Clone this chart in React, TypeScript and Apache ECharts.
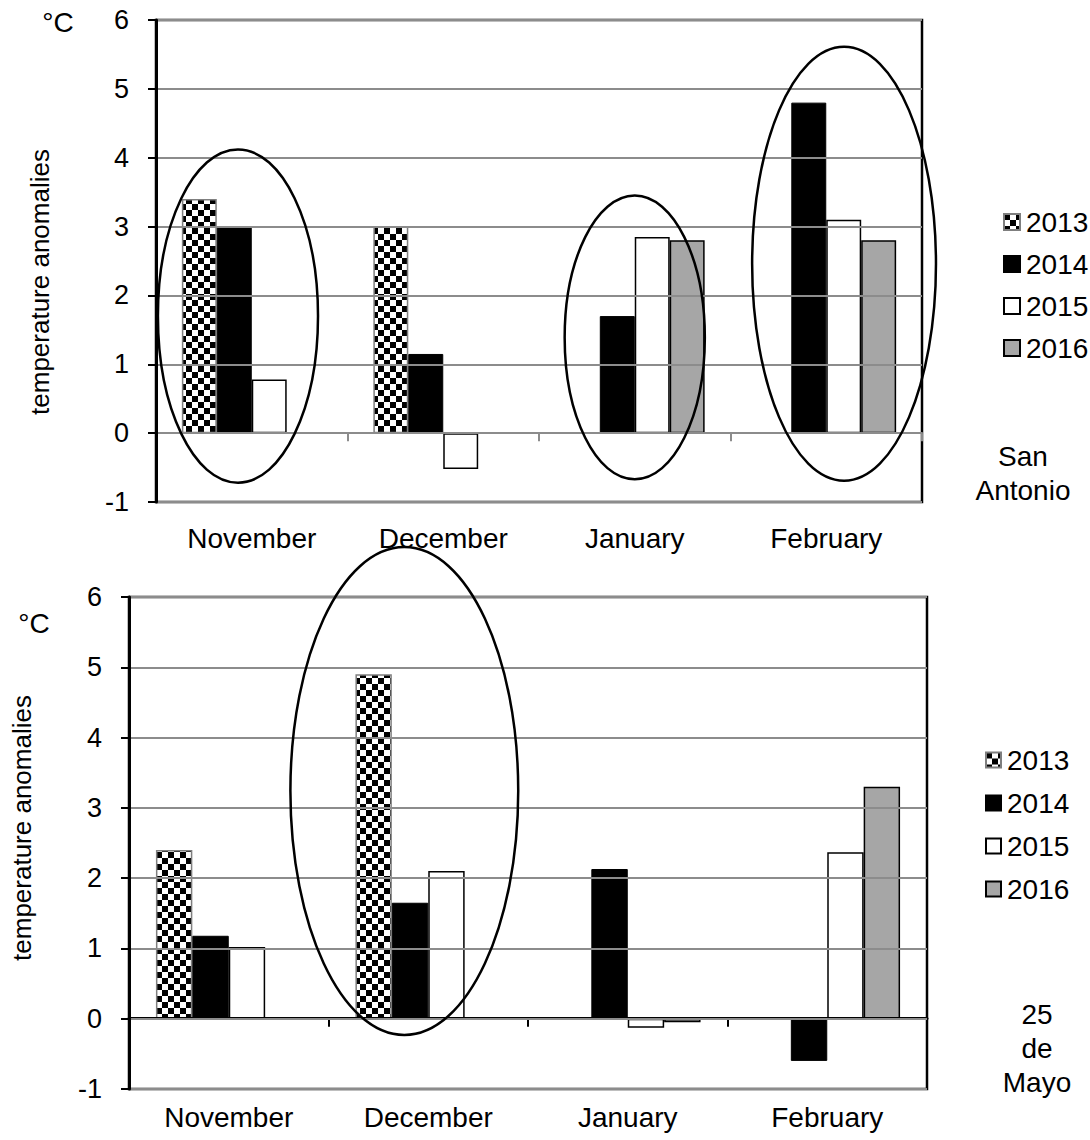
import React, { useEffect, useRef } from 'react';
import * as echarts from 'echarts';

const months = ['November', 'December', 'January', 'February'];
const years = ['2013', '2014', '2015', '2016'];
const yTicks = { min: -1, max: 6, interval: 1 };

// San Antonio (top panel)
const sa2013 = [3.4, 3.0, null, null];
const sa2014 = [3.0, 1.15, 1.7, 4.8];
const sa2015 = [0.78, -0.52, 2.85, 3.1];
const sa2016 = [null, null, 2.8, 2.8];

// 25 de Mayo (bottom panel)
const m2013 = [2.4, 4.9, null, null];
const m2014 = [1.18, 1.65, 2.13, -0.6];
const m2015 = [1.02, 2.1, -0.13, 2.37];
const m2016 = [null, null, -0.05, 3.3];

// ellipses: [category index, centre value, centre offset (fraction of band), x radius (fraction of band), y radius (value units)]
const saEllipses = [
  [0, 1.7, -0.072, 0.418, 2.42],
  [2, 1.39, 0.0, 0.366, 2.06],
  [3, 2.46, 0.093, 0.48, 3.15],
];
const mEllipses = [[1, 3.24, -0.12, 0.571, 3.47]];

const FONT = '"Liberation Sans", Arial, sans-serif';

function makeChecker(): HTMLCanvasElement {
  const c = document.createElement('canvas');
  c.width = 12;
  c.height = 12;
  const ctx = c.getContext('2d')!;
  ctx.fillStyle = '#fff';
  ctx.fillRect(0, 0, 12, 12);
  ctx.fillStyle = '#000';
  ctx.fillRect(0, 0, 6, 6);
  ctx.fillRect(6, 6, 6, 6);
  return c;
}

export default function App() {
  const ref = useRef<HTMLDivElement>(null);
  useEffect(() => {
    if (!ref.current) return;
    const chart = echarts.init(ref.current, null, { renderer: 'svg' });
    const checker = makeChecker();

    const styles = [
      { color: { image: checker, repeat: 'repeat' } as any, borderColor: '#7f7f7f', borderWidth: 1.5 },
      { color: '#000', borderColor: '#000', borderWidth: 1 },
      { color: '#fff', borderColor: '#000', borderWidth: 1.5 },
      { color: '#a6a6a6', borderColor: '#000', borderWidth: 1.5 },
    ];

    const barSeries = (data: (number | null)[][], xi: number, yi: number) =>
      data.map((d, i) => ({
        type: 'bar',
        name: years[i],
        xAxisIndex: xi,
        yAxisIndex: yi,
        data: d.map((v) => (v === null ? '-' : v)),
        barGap: '0%',
        barCategoryGap: '27%',
        itemStyle: styles[i],
        z: 3,
      }));

    const ellipseSeries = (data: number[][], xi: number, yi: number) => ({
      type: 'custom',
      name: 'ellipse' + xi,
      xAxisIndex: xi,
      yAxisIndex: yi,
      clip: false,
      z: 10,
      encode: { x: 0, y: 1 },
      data,
      renderItem: (params: any, api: any) => {
        const c = api.coord([api.value(0), api.value(1)]);
        const sz = api.size([1, 1], [api.value(0), 0]);
        const band = sz[0];
        const unit = sz[1];
        return {
          type: 'ellipse',
          shape: {
            cx: c[0] + api.value(2) * band,
            cy: c[1],
            rx: api.value(3) * band,
            ry: api.value(4) * unit,
          },
          style: { fill: 'none', stroke: '#000', lineWidth: 2.5 },
        };
      },
    });

    const zeroAxis = (gi: number, color: string, width: number) => ({
      type: 'category',
      gridIndex: gi,
      data: months,
      axisLine: { show: true, onZero: true, lineStyle: { color, width } },
      axisTick: { show: true, length: 8, lineStyle: { color, width: 2 } },
      axisLabel: { show: false },
      splitLine: { show: false },
      z: 5,
    });
    const labelAxis = (gi: number, margin: number) => ({
      type: 'category',
      gridIndex: gi,
      data: months,
      position: 'bottom',
      axisLine: { show: false, onZero: false },
      axisTick: { show: false },
      axisLabel: { show: true, margin, fontSize: 28, color: '#000', fontFamily: FONT },
      splitLine: { show: false },
    });
    const yAxis = (gi: number) => ({
      type: 'value',
      gridIndex: gi,
      min: yTicks.min,
      max: yTicks.max,
      interval: yTicks.interval,
      axisLine: { show: true, lineStyle: { color: '#000', width: 3 } },
      axisTick: { show: true, length: 8, lineStyle: { color: '#000', width: 2 } },
      axisLabel: { margin: 27, fontSize: 27, color: '#000', fontFamily: FONT },
      splitLine: { show: true, lineStyle: { color: '#8c8c8c', width: 2 } },
      z: 6,
    });

    const legend = (left: number, top: number, size: number, gap: number) => ({
      orient: 'vertical',
      left,
      top,
      itemWidth: size,
      itemHeight: size,
      itemGap: gap,
      icon: 'rect',
      selectedMode: false,
      data: years,
      textStyle: { fontSize: 28, lineHeight: 28, color: '#000', fontFamily: FONT, padding: [0, 0, 0, 1] },
    });

    const txt = (text: string, x: number, y: number, extra: any = {}) => ({
      type: 'text',
      x,
      y,
      style: {
        text,
        fontSize: 28,
        fontFamily: FONT,
        fill: '#000',
        align: 'center',
        verticalAlign: 'middle',
        ...extra,
      },
    });

    chart.setOption({
      animation: false,
      backgroundColor: '#fff',
      grid: [
        { left: 156, top: 20, width: 766, height: 482, show: true, borderColor: '#000', borderWidth: 2.5, backgroundColor: 'transparent' },
        { left: 129, top: 597, width: 798, height: 492, show: true, borderColor: '#000', borderWidth: 2.5, backgroundColor: 'transparent' },
      ],
      xAxis: [zeroAxis(0, '#8c8c8c', 2), labelAxis(0, 22), zeroAxis(1, '#000', 3), labelAxis(1, 14)],
      yAxis: [yAxis(0), yAxis(1)],
      legend: [legend(998, 203, 16, 14), legend(980, 741, 15, 15)],
      series: [
        ...barSeries([sa2013, sa2014, sa2015, sa2016], 0, 0),
        ellipseSeries(saEllipses, 0, 0),
        ...barSeries([m2013, m2014, m2015, m2016], 2, 1),
        ellipseSeries(mEllipses, 2, 1),
      ],
      graphic: [
        txt('°C', 58, 22),
        txt('°C', 34, 623),
        { ...txt('temperature anomalies', 40, 282, { fontSize: 26 }), rotation: Math.PI / 2 },
        { ...txt('temperature anomalies', 22, 828, { fontSize: 26 }), rotation: Math.PI / 2 },
        txt('San\nAntonio', 1023, 473, { lineHeight: 34 }),
        txt('25\nde\nMayo', 1037, 1048, { lineHeight: 34 }),
      ],
    });
    return () => chart.dispose();
  }, []);
  return (
    <div
      ref={ref}
      style={{ position: 'absolute', left: 0, top: 0, width: 1090, height: 1140 }}
    />
  );
}
